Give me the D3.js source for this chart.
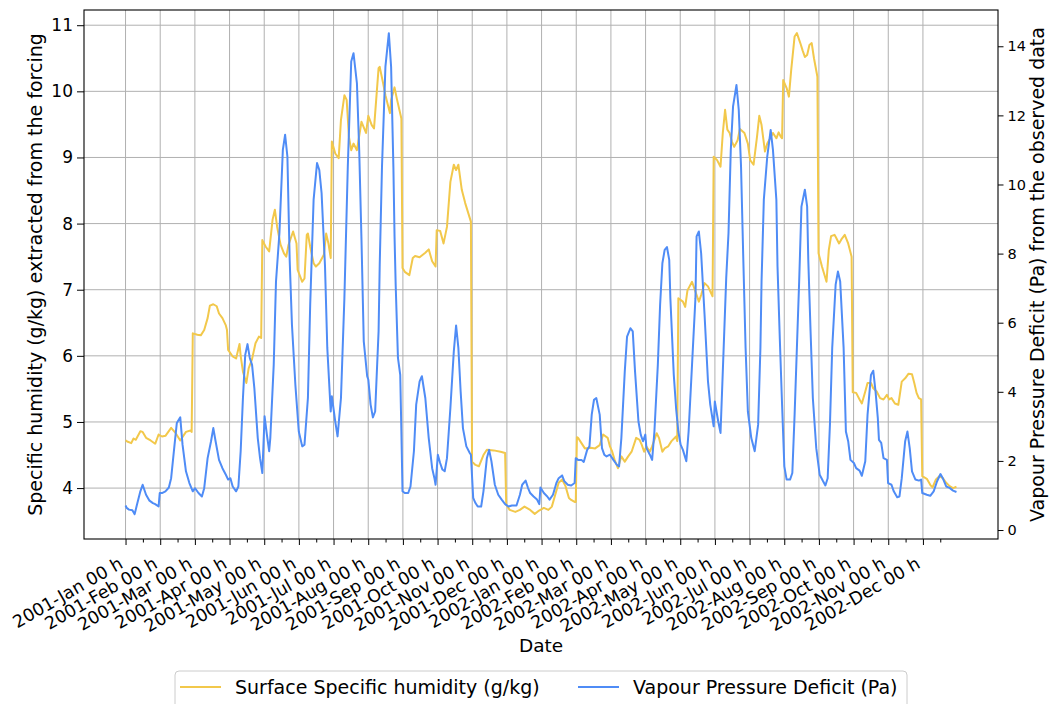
<!DOCTYPE html>
<html>
<head>
<meta charset="utf-8">
<script src="https://cdn.jsdelivr.net/npm/d3@7"></script>
<style>
  body { margin: 0; background: #fff; }
  text { font-family: "DejaVu Sans", sans-serif; fill: #000; }
</style>
</head>
<body>
<div id="chart"></div>
<script>
// day of record, 0 = 2001-01-01 (daily series up to 2002-12-31)
var monthLabels = ["2001-Jan 00 h", "2001-Feb 00 h", "2001-Mar 00 h", "2001-Apr 00 h",
  "2001-May 00 h", "2001-Jun 00 h", "2001-Jul 00 h", "2001-Aug 00 h", "2001-Sep 00 h",
  "2001-Oct 00 h", "2001-Nov 00 h", "2001-Dec 00 h", "2002-Jan 00 h", "2002-Feb 00 h",
  "2002-Mar 00 h", "2002-Apr 00 h", "2002-May 00 h", "2002-Jun 00 h", "2002-Jul 00 h",
  "2002-Aug 00 h", "2002-Sep 00 h", "2002-Oct 00 h", "2002-Nov 00 h", "2002-Dec 00 h"];
var recordDays = 730;
var humTicks = [4, 5, 6, 7, 8, 9, 10, 11];
var vpdTicks = [0, 2, 4, 6, 8, 10, 12, 14];

// Surface specific humidity (g/kg)
var humDays = [0, 2, 5, 7, 9, 13, 15, 18, 22, 26, 29, 32, 35, 40, 44, 48, 53, 57, 58,
  59, 63, 66, 69, 72, 74, 77, 80, 82, 85, 88, 89,
  90, 94, 97, 100, 101, 103, 106, 108, 111, 114, 117, 119,
  120, 123, 126, 129, 131, 133, 136, 139, 141, 143, 147, 150,
  151, 155, 157, 159, 160, 162, 165, 167, 170, 174, 176, 178, 180,
  181, 184, 187, 189, 192, 194, 196, 198, 200, 203, 207, 211, 213, 216, 218, 222, 223, 226, 228, 232, 233, 236, 238, 242,
  243, 245, 249, 252, 254, 258, 263, 266, 269, 272,
  273, 276, 279, 282, 285, 288, 290, 292, 295, 298, 303,
  304, 307, 310, 314, 317, 323, 329, 333,
  334, 337, 342, 346, 350, 355, 359, 362, 367, 371, 374, 377, 380, 383, 386, 389, 391, 394, 395,
  396, 397, 400, 403, 408, 412, 416, 419, 423, 425, 427, 429, 432, 435, 438, 441, 444, 448, 451, 453, 455, 457, 460, 462, 466, 468, 471, 473, 476, 479, 483, 484,
  485, 489, 491, 493, 497, 500, 503, 505, 508, 511, 515,
  516, 519, 522, 524, 526, 528, 530, 532, 534, 537, 539, 543, 546, 548, 551, 554, 556, 558, 561, 563, 565, 568, 571, 573, 575, 576,
  577, 580, 582, 584, 587, 589, 592, 594, 596, 598, 600, 602, 604, 607,
  608, 611, 615, 617, 619, 622, 623, 626, 628, 631, 634, 637,
  638, 641, 644, 646, 649, 651, 654, 656, 659, 662, 665, 668, 670, 672, 675, 678, 681, 684, 687, 690, 692, 694, 696, 698,
  699, 703, 706, 708, 711, 714, 717, 720, 723, 726, 729];
var humValues = [4.72, 4.70, 4.68, 4.75, 4.73, 4.86, 4.85, 4.76, 4.72, 4.67, 4.81, 4.78, 4.79, 4.91, 4.83, 4.72, 4.85, 4.87, 4.85,
  6.34, 6.32, 6.31, 6.39, 6.57, 6.76, 6.78, 6.75, 6.64, 6.57, 6.46, 6.39,
  6.09, 5.99, 5.96, 6.18, 6.00, 5.76, 5.59, 5.81, 5.95, 6.19, 6.29, 6.27,
  7.75, 7.65, 7.58, 8.06, 8.21, 7.95, 7.68, 7.55, 7.50, 7.68, 7.88, 7.70,
  7.30, 7.12, 7.17, 7.83, 7.85, 7.65, 7.40, 7.35, 7.40, 7.53, 7.85, 7.70, 7.48,
  9.24, 9.06, 8.99, 9.57, 9.94, 9.87, 9.31, 9.11, 9.21, 9.11, 9.54, 9.37, 9.63, 9.49, 9.44, 10.35, 10.37, 10.12, 9.94, 9.67, 9.87, 10.06, 9.89, 9.59,
  7.33, 7.27, 7.22, 7.48, 7.51, 7.49, 7.56, 7.61, 7.43, 7.35,
  7.90, 7.89, 7.70, 7.95, 8.63, 8.89, 8.81, 8.89, 8.51, 8.31, 8.03,
  4.40, 4.35, 4.33, 4.50, 4.58, 4.57, 4.55, 4.53,
  3.75, 3.67, 3.64, 3.67, 3.72, 3.67, 3.61, 3.65, 3.70, 3.67, 3.72, 3.90, 4.08, 4.13, 4.03, 3.85, 3.82, 3.79, 3.79,
  4.77, 4.76, 4.68, 4.60, 4.61, 4.60, 4.65, 4.81, 4.76, 4.63, 4.55, 4.43, 4.30, 4.48, 4.40, 4.48, 4.55, 4.76, 4.73, 4.65, 4.55, 4.63, 4.55, 4.63, 4.83, 4.76, 4.55, 4.60, 4.63, 4.71, 4.78, 4.71,
  6.87, 6.82, 6.74, 6.99, 7.12, 6.97, 6.82, 6.92, 7.10, 7.05, 6.90,
  9.01, 8.96, 8.86, 9.37, 9.72, 9.42, 9.37, 9.24, 9.16, 9.26, 9.43, 9.37, 9.21, 8.96, 8.89, 9.31, 9.63, 9.49, 9.09, 9.21, 9.27, 9.37, 9.29, 9.38, 9.31, 9.29,
  10.17, 10.05, 9.92, 10.32, 10.83, 10.88, 10.73, 10.62, 10.52, 10.55, 10.70, 10.73, 10.50, 10.22,
  7.55, 7.35, 7.12, 7.60, 7.81, 7.83, 7.80, 7.70, 7.76, 7.83, 7.70, 7.50,
  5.45, 5.44, 5.34, 5.28, 5.46, 5.59, 5.59, 5.51, 5.46, 5.36, 5.34, 5.41, 5.34, 5.36, 5.28, 5.26, 5.61, 5.66, 5.73, 5.72, 5.59, 5.44, 5.36, 5.34,
  4.18, 4.14, 4.05, 4.01, 4.13, 4.18, 4.15, 4.08, 4.03, 4.00, 4.02];

// Vapour pressure deficit (Pa)
var vpdDays = [0, 1, 3, 6, 8, 10, 13, 15, 18, 21, 24, 26, 29, 30, 32, 35, 38, 40, 43, 45, 48, 50, 53, 56,
  59, 61, 64, 67, 69, 72, 75, 77, 79, 82, 85, 88,
  90, 92, 94, 97, 99, 101, 103, 105, 107, 109, 111, 113, 116, 118,
  120, 122, 124, 126, 127, 130, 132, 135, 138, 140, 142, 144, 146, 149,
  152, 155, 157, 160, 162, 165, 168, 170, 172, 175, 177, 180,
  181, 184, 186, 189, 192, 195, 198, 200, 203, 205, 207, 209,
  212, 213, 215, 217, 219, 222, 223, 225, 228, 231, 233, 235, 236, 237, 239, 241, 242,
  243, 245, 248, 250, 253, 255, 258, 260, 263, 266, 269, 271, 272,
  274, 276, 278, 280, 282, 285, 288, 290, 292, 294, 296, 299, 302, 303,
  305, 307, 309, 312, 314, 317, 319, 321, 324, 327, 330, 333,
  336, 339, 343, 346, 348, 351, 353, 355, 358, 361, 363, 364,
  367, 370, 372, 375, 378, 380, 383, 385, 388, 391, 394,
  395, 397, 400, 402, 405, 407, 409, 411, 413, 416, 418, 420, 422,
  425, 428, 431, 433, 435, 438, 440, 443, 445, 447, 450, 452,
  454, 456, 457, 460, 462, 464, 467, 469, 471, 473, 475, 477, 478, 481, 483,
  485, 487, 489, 492, 494, 497, 500, 501, 503, 505, 508, 511, 513,
  516, 517, 520, 522, 524, 527, 529, 531, 533, 536, 538, 540, 542, 544,
  546, 549, 552, 555, 557, 558, 560, 563, 566, 568, 571, 572, 574, 576,
  578, 580, 583, 585, 587, 589, 591, 593, 596, 598, 599, 601, 603, 606,
  609, 612, 614, 616, 618, 620, 623, 625, 627, 630, 632, 634, 636,
  639, 641, 644, 646, 649, 651, 654, 656, 658, 660, 661, 663, 665, 668,
  669, 672, 674, 677, 679, 681, 684, 686, 688, 690, 693, 696, 698,
  699, 703, 706, 709, 712, 715, 717, 720, 723, 726, 729];
var vpdValues = [0.71, 0.64, 0.59, 0.57, 0.46, 0.73, 1.12, 1.31, 1.02, 0.85, 0.78, 0.75, 0.68, 1.07, 1.07, 1.12, 1.23, 1.50, 2.47, 3.10, 3.26, 2.47, 1.70, 1.36,
  1.12, 1.21, 1.07, 0.97, 1.21, 2.08, 2.57, 2.95, 2.57, 2.03, 1.79, 1.60,
  1.46, 1.50, 1.26, 1.12, 1.26, 2.28, 3.82, 5.07, 5.38, 4.98, 4.78, 4.11, 2.66, 2.08,
  1.65, 3.29, 2.76, 2.28, 2.66, 4.78, 7.19, 8.59, 11.00, 11.44, 10.81, 7.82, 5.94, 4.20,
  2.85, 2.42, 2.47, 3.82, 6.52, 9.56, 10.62, 10.42, 9.75, 7.63, 5.27, 3.43,
  3.87, 3.14, 2.71, 3.82, 6.71, 10.52, 13.56, 13.80, 12.93, 11.00, 8.40, 5.46,
  4.45, 4.35, 3.63, 3.26, 3.43, 5.75, 7.68, 10.52, 13.41, 14.38, 13.40, 10.50, 8.50, 7.10, 4.98, 4.49, 2.85,
  1.12, 1.07, 1.07, 1.26, 2.28, 3.63, 4.30, 4.45, 3.82, 2.66, 1.79, 1.50, 1.31,
  2.18, 1.94, 1.75, 1.70, 2.08, 3.53, 5.17, 5.92, 5.27, 4.01, 2.95, 2.42, 2.23, 2.18,
  0.93, 0.78, 0.68, 0.68, 1.12, 2.08, 2.32, 1.99, 1.31, 1.02, 0.88, 0.75,
  0.68, 0.71, 0.71, 1.02, 1.31, 1.43, 1.23, 1.07, 0.97, 0.88, 0.75, 1.23,
  1.07, 0.97, 0.88, 1.02, 1.36, 1.50, 1.58, 1.41, 1.31, 1.29, 1.36,
  2.08, 2.03, 2.03, 1.97, 2.32, 2.42, 3.34, 3.77, 3.82, 3.34, 2.37, 2.18, 2.13,
  2.18, 2.03, 1.89, 1.84, 2.66, 4.59, 5.60, 5.84, 5.75, 4.59, 3.14, 2.76,
  2.57, 2.76, 2.37, 2.18, 2.03, 2.85, 4.78, 6.52, 7.72, 8.11, 8.19, 7.82, 6.71, 4.49, 3.53,
  2.85, 2.47, 2.32, 1.99, 2.85, 4.78, 6.71, 8.50, 8.64, 8.01, 6.23, 4.30, 3.63,
  3.00, 3.72, 3.14, 2.81, 4.59, 7.29, 8.59, 11.00, 12.26, 12.88, 12.16, 10.52, 7.82, 5.27,
  3.43, 2.66, 2.28, 3.05, 5.27, 7.19, 9.56, 10.81, 11.58, 11.00, 9.56, 7.63, 5.55, 3.63,
  1.84, 1.46, 1.46, 1.65, 3.34, 5.27, 7.19, 9.36, 9.85, 9.36, 7.82, 5.75, 3.82, 2.37,
  1.60, 1.41, 1.29, 1.50, 3.05, 5.27, 7.10, 7.48, 7.19, 5.27, 2.85, 2.57, 2.03,
  1.94, 1.79, 1.72, 1.57, 1.99, 3.34, 4.49, 4.61, 4.01, 3.24, 2.61, 2.52, 2.08, 2.03,
  1.36, 1.31, 1.12, 0.95, 0.97, 1.50, 2.57, 2.85, 2.37, 1.70, 1.46, 1.43, 1.46,
  1.07, 1.02, 0.99, 1.12, 1.41, 1.62, 1.50, 1.26, 1.22, 1.14, 1.10];

var humColor = "#f2c84b",
    vpdColor = "#4f8cf6";

var margin = {top: 10, right: 53, bottom: 165, left: 84},
    width = 1051 - margin.left - margin.right,
    height = 704 - margin.top - margin.bottom;

// ranges, with matplotlib-like 5% padding on x
var pad = 0.05 * (recordDays - 1);
var x = d3.scaleLinear().domain([-pad, recordDays - 1 + pad]).range([0, width]);
var yHum = d3.scaleLinear().domain([3.23, 11.23]).range([height, 0]);
var yVpd = d3.scaleLinear().domain([-0.26, 15.05]).range([height, 0]);

var step = recordDays / monthLabels.length;
var majorTicks = monthLabels.map(function(d, i) { return i * step; });
var minorTicks = monthLabels.map(function(d, i) { return (i + 0.5) * step; });

var svg = d3.select("#chart").append("svg")
    .attr("width", width + margin.left + margin.right)
    .attr("height", height + margin.top + margin.bottom)
  .append("g")
    .attr("transform", "translate(" + margin.left + "," + margin.top + ")");

// grid
svg.append("g").selectAll("line")
    .data(majorTicks).enter().append("line")
    .attr("x1", function(d) { return x(d); }).attr("x2", function(d) { return x(d); })
    .attr("y1", 0).attr("y2", height)
    .attr("stroke", "#b0b0b0").attr("stroke-width", 1);
svg.append("g").selectAll("line")
    .data(humTicks).enter().append("line")
    .attr("x1", 0).attr("x2", width)
    .attr("y1", function(d) { return yHum(d); }).attr("y2", function(d) { return yHum(d); })
    .attr("stroke", "#b0b0b0").attr("stroke-width", 1);

var humLine = d3.line()
    .x(function(d) { return x(d[0]); })
    .y(function(d) { return yHum(d[1]); });
var vpdLine = d3.line()
    .x(function(d) { return x(d[0]); })
    .y(function(d) { return yVpd(d[1]); });

svg.append("path")
    .datum(d3.zip(humDays, humValues))
    .attr("fill", "none").attr("stroke", humColor).attr("stroke-width", 2)
    .attr("stroke-linejoin", "round")
    .attr("d", humLine);
svg.append("path")
    .datum(d3.zip(vpdDays, vpdValues))
    .attr("fill", "none").attr("stroke", vpdColor).attr("stroke-width", 2)
    .attr("stroke-linejoin", "round")
    .attr("d", vpdLine);

// x axis
var xAxis = svg.append("g")
    .attr("transform", "translate(0," + height + ")")
    .call(d3.axisBottom(x).tickValues(majorTicks)
      .tickFormat(function(d, i) { return monthLabels[i]; }).tickSize(6));
xAxis.selectAll("text")
    .attr("x", null).attr("y", null).attr("dy", null)
    .attr("text-anchor", "end")
    .attr("transform", "translate(-2,28) rotate(-30)")
    .style("font-size", "17.5px");
svg.append("g")
    .attr("transform", "translate(0," + height + ")")
    .call(d3.axisBottom(x).tickValues(minorTicks).tickFormat("").tickSize(3.5));

// left axis
svg.append("g")
    .call(d3.axisLeft(yHum).tickValues(humTicks).tickSize(7).tickPadding(4))
    .selectAll("text").style("font-size", "17px");

// right axis
svg.append("g")
    .attr("transform", "translate(" + width + ",0)")
    .call(d3.axisRight(yVpd).tickValues(vpdTicks).tickSize(5.5).tickPadding(4))
    .selectAll("text").style("font-size", "14.5px");

svg.selectAll(".domain").remove();
svg.selectAll(".tick line").attr("stroke", "#000").attr("stroke-width", 1);
svg.selectAll(".tick text").attr("fill", "#000").style("font-family", "DejaVu Sans");

// frame
svg.append("rect")
    .attr("width", width).attr("height", height)
    .attr("fill", "none").attr("stroke", "#000").attr("stroke-width", 1.1);

// axis titles
svg.append("text")
    .attr("transform", "translate(-42," + (height / 2) + ") rotate(-90)")
    .attr("text-anchor", "middle").style("font-size", "19px")
    .text("Specific humidity (g/kg) extracted from the forcing");
svg.append("text")
    .attr("transform", "translate(" + (width + 46) + "," + (height / 2) + ") rotate(-90)")
    .attr("text-anchor", "middle").style("font-size", "19px")
    .text("Vapour Pressure Deficit (Pa) from the observed data");
svg.append("text")
    .attr("x", width / 2).attr("y", height + 113)
    .attr("text-anchor", "middle").style("font-size", "18.5px")
    .text("Date");

// legend
var legend = svg.append("g").attr("transform", "translate(91," + (height + 132) + ")");
legend.append("rect")
    .attr("width", 732).attr("height", 44).attr("rx", 4)
    .attr("fill", "#fff").attr("stroke", "#cccccc").attr("stroke-width", 1);
var items = [
  {label: "Surface Specific humidity (g/kg)", color: humColor, x: 5},
  {label: "Vapour Pressure Deficit (Pa)", color: vpdColor, x: 403}
];
var item = legend.selectAll(".item").data(items).enter().append("g")
    .attr("transform", function(d) { return "translate(" + d.x + ",0)"; });
item.append("line")
    .attr("x1", 0).attr("x2", 41).attr("y1", 16).attr("y2", 16)
    .attr("stroke", function(d) { return d.color; }).attr("stroke-width", 2);
item.append("text")
    .attr("x", 55).attr("y", 23).style("font-size", "19px")
    .text(function(d) { return d.label; });
</script>
</body>
</html>
